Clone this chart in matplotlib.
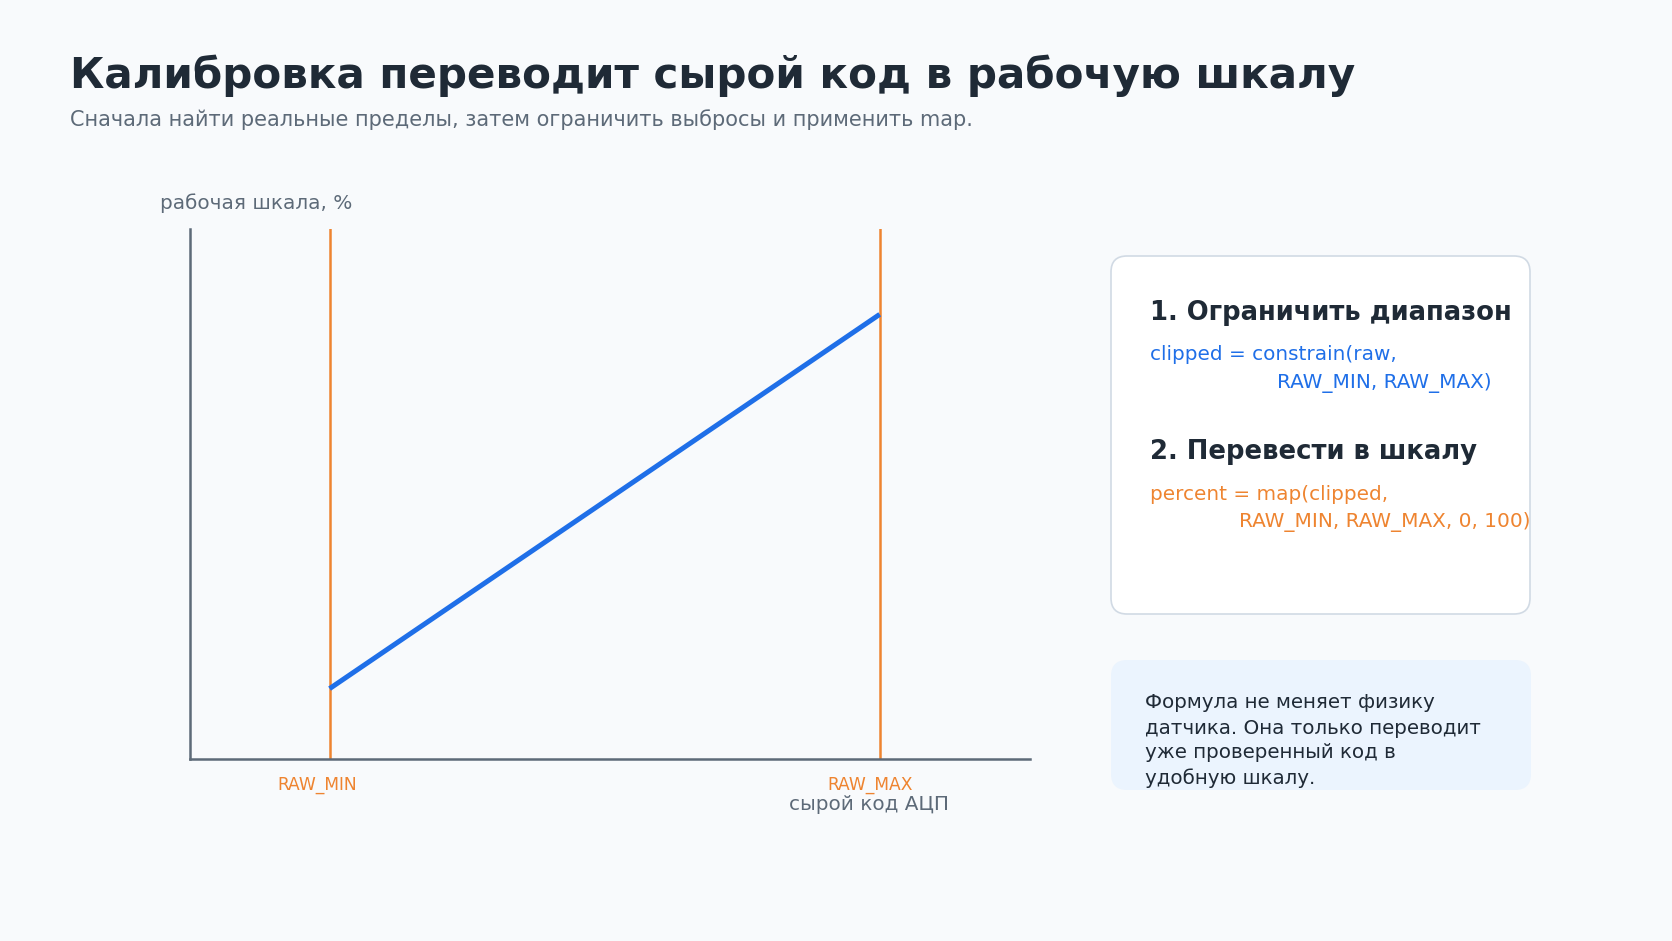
import matplotlib
matplotlib.use("Agg")
import matplotlib.pyplot as plt
from matplotlib.patches import FancyBboxPatch
from matplotlib.transforms import IdentityTransform

# data
raw_range = [0, 1023]
raw_min = 170
raw_max = 840
percent_range = [0, 100]
y_limits = [-18.8, 122.8]

title = "Калибровка переводит сырой код в рабочую шкалу"
subtitle = "Сначала найти реальные пределы, затем ограничить выбросы и применить map."
step1_head = "1. Ограничить диапазон"
step1_code = ["clipped = constrain(raw,", "RAW_MIN, RAW_MAX)"]
step2_head = "2. Перевести в шкалу"
step2_code = ["percent = map(clipped,", "RAW_MIN, RAW_MAX, 0, 100)"]
note_lines = ["Формула не меняет физику", "датчика. Она только переводит",
              "уже проверенный код в", "удобную шкалу."]

BG = "#f8fafc"
DARK = "#1f2a36"
GREY = "#5d6a78"
BLUE = "#1f6fe8"
ORANGE = "#ee8430"

W, H = 1672, 941
fig = plt.figure(figsize=(W / 100, H / 100), dpi=100, facecolor=BG)


def fx(px):
    return px / W


def fy(py):
    return 1 - py / H


fig.text(fx(70), fy(88), title, fontsize=30.3, fontweight="bold", color=DARK, va="baseline")
fig.text(fx(70), fy(120), subtitle, fontsize=15, color=GREY, va="center")

ax = fig.add_axes([fx(190), fy(759), fx(1030) - fx(190), fy(229) - fy(759)])
ax.set_facecolor(BG)
ax.set_xlim(raw_range)
ax.set_ylim(y_limits)
for s in ["top", "right"]:
    ax.spines[s].set_visible(False)
for s in ["left", "bottom"]:
    ax.spines[s].set_color(GREY)
    ax.spines[s].set_linewidth(1.8)
ax.set_xticks([])
ax.set_yticks([])

ax.axvline(raw_min, color=ORANGE, lw=1.8)
ax.axvline(raw_max, color=ORANGE, lw=1.8)
ax.plot([raw_min, raw_max], percent_range, color=BLUE, lw=3.6, solid_capstyle="butt")

for xv, lab, dx in [(raw_min, "RAW_MIN", -9), (raw_max, "RAW_MAX", -7)]:
    ax.annotate(lab, xy=(xv, 0), xycoords=("data", "axes fraction"),
                xytext=(dx, -18.5), textcoords="offset points",
                ha="center", va="center", fontsize=12.3, color=ORANGE)

fig.text(fx(869), fy(804), "сырой код АЦП", fontsize=14.4, color=GREY, ha="center", va="center")
fig.text(fx(160), fy(203), "рабочая шкала, %", fontsize=14.4, color=GREY, va="center")

# cards
card = FancyBboxPatch((1111, H - 614), 419, 358, boxstyle="round,pad=0,rounding_size=16",
                      transform=IdentityTransform(), facecolor="white", edgecolor="#d1dae4", lw=1.2)
fig.patches.append(card)
note = FancyBboxPatch((1111, H - 790), 420, 130, boxstyle="round,pad=0,rounding_size=16",
                      transform=IdentityTransform(), facecolor="#ebf4fe", edgecolor="none")
fig.patches.append(note)

fig.text(fx(1150), fy(313), step1_head, fontsize=18.6, fontweight="bold", color=DARK, va="center")
fig.text(fx(1150), fy(355), step1_code[0], fontsize=14.4, color=BLUE, va="center")
fig.text(fx(1277), fy(383), step1_code[1], fontsize=14.4, color=BLUE, va="center")
fig.text(fx(1150), fy(452), step2_head, fontsize=18.6, fontweight="bold", color=DARK, va="center")
fig.text(fx(1150), fy(495), step2_code[0], fontsize=14.4, color=ORANGE, va="center")
fig.text(fx(1239), fy(522), step2_code[1], fontsize=14.4, color=ORANGE, va="center")

for i, line in enumerate(note_lines):
    fig.text(fx(1145), fy(703 + i * 25), line, fontsize=14.35, color=DARK, va="center")

fig.savefig("out.png", dpi=100, facecolor=BG)
